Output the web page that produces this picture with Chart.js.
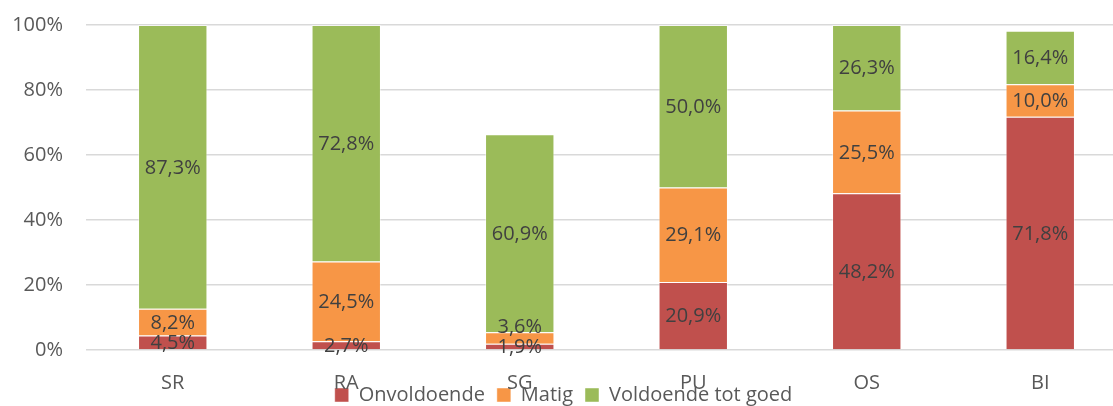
<!DOCTYPE html>
<html>
<head>
<meta charset="utf-8">
<script src="https://cdn.jsdelivr.net/npm/chart.js@4/dist/chart.umd.min.js"></script>
<style>
  html, body { margin: 0; padding: 0; background: #ffffff; overflow: hidden; }
  #wrap { width: 1130px; height: 406px; position: relative; }
</style>
</head>
<body>
<div id="wrap"><canvas id="c" width="1130" height="406"></canvas></div>
<script>
const categories = ['SR', 'RA', 'SG', 'PU', 'OS', 'BI'];
const seriesNames = ['Onvoldoende', 'Matig', 'Voldoende tot goed'];
const onvoldoende = [4.5, 2.7, 1.9, 20.9, 48.2, 71.8];
const matig = [8.2, 24.5, 3.6, 29.1, 25.5, 10.0];
const voldoende = [87.3, 72.8, 60.9, 50.0, 26.3, 16.4];
const yTicks = [0, 20, 40, 60, 80, 100];

const colors = ['#C0504D', '#F79646', '#9BBB59'];
const FONT = "'Open Sans', 'Noto Sans', sans-serif";

const fmt = v => v.toFixed(1).replace('.', ',') + '%';

// Segment labels centred in each bar piece; a label that would collide with
// the one below it in the same stack is pushed upward.
const labelPlugin = {
  id: 'segLabels',
  afterDatasetsDraw(chart) {
    const ctx = chart.ctx;
    const minGap = 20;
    ctx.save();
    ctx.font = '20px ' + FONT;
    ctx.fillStyle = '#404040';
    ctx.textAlign = 'center';
    ctx.textBaseline = 'middle';
    const n = chart.data.labels.length;
    for (let i = 0; i < n; i++) {
      let prevY = null;
      chart.data.datasets.forEach((ds, di) => {
        const el = chart.getDatasetMeta(di).data[i];
        let y = (el.y + el.base) / 2 + 1;
        if (prevY !== null && prevY - y < minGap) y = prevY - minGap;
        ctx.fillText(fmt(ds.data[i]), el.x, y);
        prevY = y;
      });
    }
    ctx.restore();
  }
};

// Let the legend overlap the bottom of the category labels, as in the original
const legendShift = {
  id: 'legendShift',
  afterLayout(chart) {
    const lg = chart.legend;
    if (lg) { lg.top -= 23; lg.bottom -= 23; }
  }
};

new Chart(document.getElementById('c'), {
  type: 'bar',
  data: {
    labels: categories,
    datasets: [
      { label: seriesNames[0], data: onvoldoende, backgroundColor: colors[0] },
      { label: seriesNames[1], data: matig, backgroundColor: colors[1] },
      { label: seriesNames[2], data: voldoende, backgroundColor: colors[2] }
    ].map(d => Object.assign(d, {
      borderColor: 'rgba(255,255,255,0.45)',
      borderWidth: 1,
      categoryPercentage: 1,
      barPercentage: 0.4
    }))
  },
  options: {
    responsive: false,
    animation: false,
    layout: { padding: { top: 25, right: 3, left: 0, bottom: -32 } },
    plugins: {
      legend: {
        position: 'bottom',
        labels: {
          boxWidth: 14,
          boxHeight: 14,
          padding: 12,
          color: '#595959',
          font: { family: FONT, size: 20 }
        }
      },
      tooltip: { enabled: false }
    },
    scales: {
      x: {
        stacked: true,
        grid: { display: false },
        border: { display: false },
        ticks: { color: '#595959', font: { family: FONT, size: 20 }, padding: 13, maxRotation: 0, autoSkip: false },
        afterFit: s => { s.height = 46; }
      },
      y: {
        stacked: true,
        min: 0,
        max: 100,
        afterBuildTicks: s => { s.ticks = yTicks.map(v => ({ value: v })); },
        grid: { color: '#d9d9d9', lineWidth: 1.5, drawTicks: false },
        border: { display: false },
        ticks: { color: '#595959', font: { family: FONT, size: 20 }, padding: 23, callback: v => v + '%' },
        afterFit: s => { s.width = 86; s.paddingTop = 0; s.paddingBottom = 0; }
      }
    }
  },
  plugins: [labelPlugin, legendShift]
});
</script>
</body>
</html>
